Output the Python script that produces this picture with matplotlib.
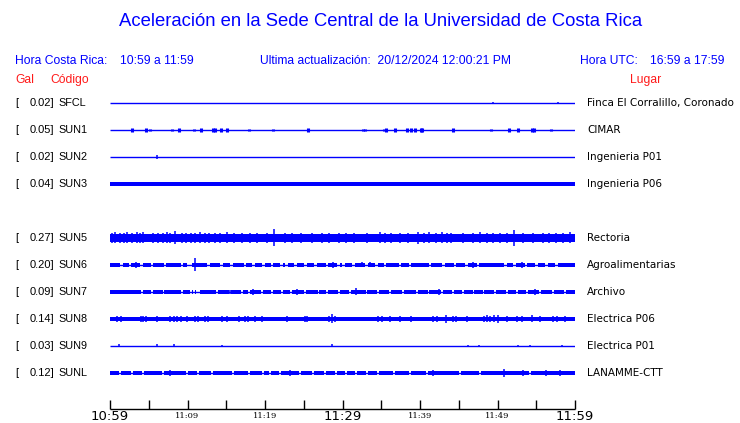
import matplotlib
matplotlib.use("Agg")
import matplotlib.pyplot as plt

# ---------------- data ----------------
codes = ["SFCL", "SUN1", "SUN2", "SUN3", "SUN5", "SUN6", "SUN7", "SUN8", "SUN9", "SUNL"]
gal = [0.02, 0.05, 0.02, 0.04, 0.27, 0.20, 0.09, 0.14, 0.03, 0.12]
places = ["Finca El Corralillo, Coronado", "CIMAR", "Ingenieria P01", "Ingenieria P06",
          "Rectoria", "Agroalimentarias", "Archivo", "Electrica P06", "Electrica P01",
          "LANAMME-CTT"]
slots = [0, 1, 2, 3, 5, 6, 7, 8, 9, 10]

# body half-amplitude (relative units) of each trace
base_amp = [0.0, 0.0, 0.0, 2.0, 4.0, 2.0, 1.8, 2.2, 0.0, 1.8]

# short bursts: (minute after 10:59, half amplitude)
spikes = {
    "SFCL": [(49.4, 1.0), (57.8, 1.0)],
    "SUN1": [(2.9, 1.6), (4.7, 1.6), (5.2, 1.0), (8.0, 1.0), (8.9, 1.6), (10.8, 1.0),
             (11.8, 1.6), (13.3, 1.6), (13.5, 1.6), (14.3, 1.6), (15.1, 1.6), (17.9, 1.2),
             (21.0, 0.9), (25.5, 1.6), (32.7, 1.4), (32.9, 1.4), (35.3, 1.2), (35.6, 1.6),
             (36.8, 1.6), (38.3, 1.6), (38.9, 1.6), (39.3, 1.6), (40.1, 1.6), (40.3, 1.6),
             (44.2, 1.6), (49.1, 0.9), (51.5, 1.6), (52.6, 1.6), (54.4, 1.6), (54.7, 1.6),
             (56.9, 1.0)],
    "SUN2": [(6.1, 1.6)],
    "SUN3": [],
    "SUN5": [(0.65, 5.5), (2.15, 5.5), (3.44, 5.5), (4.3, 5.5), (7.3, 5.5), (8.4, 6.5),
             (10.5, 4.8), (11.6, 5.5), (14.2, 4.8), (15.1, 5.5), (21.2, 8.5), (22.6, 5.0),
             (24.7, 4.8), (27.3, 4.8), (29.5, 4.8), (34.8, 5.5), (37.4, 4.8), (39.8, 6.2),
             (41.1, 5.5), (42.8, 5.5), (45.6, 4.8), (47.7, 5.5), (48.6, 4.8), (52.1, 8.0),
             (54.6, 4.8), (55.9, 4.8), (59.4, 5.5), (1.3, 5.0), (5.6, 5.0), (9.3, 5.2),
             (12.8, 5.0), (17.0, 4.8), (19.0, 5.0), (26.0, 5.0), (31.5, 5.0), (33.2, 4.8),
             (36.2, 5.2), (44.0, 5.0), (50.3, 5.0), (57.5, 5.2), (0.2, 4.8), (1.8, 4.7),
             (2.8, 4.8), (3.9, 4.7), (6.2, 4.7), (6.8, 4.8), (7.8, 4.7), (9.8, 4.7),
             (11.0, 4.8), (12.2, 4.7), (13.5, 4.8), (16.0, 4.7), (18.0, 4.8), (20.3, 4.7),
             (23.5, 4.7), (28.3, 4.7), (30.4, 4.7), (35.5, 4.8), (38.4, 4.7), (40.5, 4.8),
             (42.0, 4.8), (43.5, 4.7), (46.8, 4.7), (49.4, 4.7), (51.2, 4.8), (53.3, 4.7),
             (56.7, 4.7), (58.5, 4.8)],
    "SUN6": [(3.3, 3.0), (11.0, 6.5), (28.8, 2.7), (32.5, 2.5), (33.5, 2.5), (46.9, 2.8),
             (53.1, 2.7)],
    "SUN7": [(2.15, 2.4), (15.5, 2.3), (18.5, 3.0), (24.1, 3.0), (31.8, 3.5), (36.8, 2.3),
             (42.4, 2.6), (54.9, 2.6)],
    "SUN8": [(0.9, 3.2), (1.4, 3.2), (4.0, 3.2), (4.3, 3.2), (4.7, 3.2), (6.0, 3.2),
             (7.7, 3.2), (8.2, 3.2), (8.6, 3.2), (9.2, 3.2), (9.9, 3.2), (11.0, 3.2),
             (11.4, 3.2), (12.3, 3.2), (12.7, 3.2), (14.4, 3.2), (15.1, 3.2), (16.6, 3.2),
             (17.4, 3.2), (17.8, 3.2), (18.7, 3.2), (19.6, 3.2), (22.8, 3.2), (25.2, 3.2),
             (25.4, 3.2), (28.2, 3.2), (28.6, 4.5), (29.0, 3.2), (34.6, 3.2), (35.1, 3.2),
             (36.1, 3.2), (37.4, 3.2), (38.9, 3.2), (41.7, 3.2), (42.2, 3.2), (43.4, 4.0),
             (44.3, 3.2), (44.7, 3.2), (46.0, 3.2), (48.2, 3.2), (48.6, 3.5), (49.0, 3.2),
             (49.5, 3.5), (50.1, 4.0), (51.2, 3.2), (52.5, 3.2), (53.1, 3.2), (54.4, 3.5),
             (55.5, 3.2), (57.2, 3.2), (57.7, 3.2), (58.7, 3.2)],
    "SUN9": [(1.1, 1.5), (6.1, 1.5), (8.2, 1.5), (14.4, 1.3), (28.7, 1.5), (46.2, 1.3),
             (47.6, 1.3), (52.7, 1.3), (54.2, 1.3), (58.3, 1.3)],
    "SUNL": [(5.8, 2.4), (7.7, 2.6), (23.2, 2.6), (41.7, 2.6), (50.9, 4.0), (53.3, 3.0),
             (56.2, 2.6), (58.1, 3.0)],
}

# quiet moments (minute) where the trace body thins to a line
gaps = {
    "SUN6": [1.5, 2.6, 4.1, 5.4, 7.1, 9.3, 10.1, 10.4, 12.7, 14.4, 15.7, 17.4, 18.5, 19.8,
             20.9, 22.1, 22.8, 23.9, 25.2, 26.5, 28.0, 29.5, 30.1, 31.4, 33.1, 34.4, 35.5,
             37.4, 38.7, 41.3, 43.0, 44.5, 46.0, 47.5, 51.0, 52.2, 53.7, 55.0, 56.3, 57.6],
    "SUN7": [4.1, 5.4, 6.9, 9.3, 10.4, 10.8, 11.2, 11.5, 13.8, 15.5, 17.0, 17.9, 19.6,
             20.9, 22.2, 23.4, 25.2, 26.9, 28.0, 29.5, 31.0, 33.1, 34.6, 36.1, 37.8, 39.6,
             41.1, 42.8, 44.3, 45.6, 46.9, 48.2, 49.7, 51.2, 52.5, 53.8, 55.5, 57.2, 58.7],
    "SUNL": [1.3, 2.8, 4.3, 6.9, 9.9, 11.4, 13.1, 15.9, 17.9, 19.8, 20.6, 21.9, 24.5, 26.2,
             27.7, 29.2, 30.5, 31.8, 33.1, 34.6, 36.6, 38.7, 40.9, 45.2, 47.7, 54.2],
}

tick_minutes = [0, 5, 10, 15, 20, 25, 30, 35, 40, 45, 50, 55, 60]
label_minutes = [0, 10, 20, 30, 40, 50, 60]
tick_labels = ["10:59", "11:09", "11:19", "11:29", "11:39", "11:49", "11:59"]
big_labels = ["10:59", "11:29", "11:59"]

# ---------------- drawing ----------------
W, H = 740, 423
BLUE = "#0000ff"
RED = "#ff1a1a"
fig = plt.figure(figsize=(W / 100, H / 100), dpi=100)
fig.patch.set_facecolor("white")

ax = fig.add_axes([110 / W, 0, 465 / W, 1])
ax.set_xlim(0, 60)
ax.set_ylim(H, 0)
ax.axis("off")

ROW0, DROW = 103, 27
GAP_HALF = {"SUN6": 0.17, "SUN7": 0.12, "SUNL": 0.13}

for code, amp, slot in zip(codes, base_amp, slots):
    yc = ROW0 + DROW * slot
    ax.hlines(yc, 0, 60, color=BLUE, lw=1.0)
    if amp > 0:
        segs = []
        start = 0.0
        gh = GAP_HALF.get(code, 0.15)
        for g in sorted(gaps.get(code, [])):
            a, b = g - gh, g + gh
            if a > start:
                segs.append((start, a - start))
            start = b
        if start < 60:
            segs.append((start, 60 - start))
        ax.broken_barh(segs, (yc - amp, 2 * amp), facecolors=BLUE, edgecolors="none")
    sp = spikes.get(code, [])
    if sp:
        ts = [s[0] for s in sp]
        hs = [s[1] for s in sp]
        lw = 2.2 if code == "SUN1" else 1.1
        ax.vlines(ts, [yc - h for h in hs], [yc + h for h in hs], color=BLUE, lw=lw)

# time axis
AXY = 409
ax.hlines(AXY, 0, 60, color="black", lw=1.0, clip_on=False)
ax.vlines(tick_minutes, AXY - 9, AXY, color="black", lw=1.0, clip_on=False)
for m, lab in zip(label_minutes, tick_labels):
    if lab in big_labels:
        ax.text(m, 416.5, lab, ha="center", va="center", fontsize=9.5,
                family="DejaVu Sans", color="black", clip_on=False)
    else:
        ax.text(m, 416, lab, ha="center", va="center", fontsize=6,
                family="DejaVu Serif", color="black", clip_on=False)


def ftext(x, y, s, **kw):
    fig.text(x / W, 1 - y / H, s, va="center", **kw)


SANS = "Liberation Sans"
ftext(381, 22, "Aceleración en la Sede Central de la Universidad de Costa Rica",
      ha="center", fontsize=13.3, color=BLUE, family=SANS)
ftext(15, 61, "Hora Costa Rica:", ha="left", fontsize=8.7, color=BLUE, family=SANS)
ftext(120, 61, "10:59 a 11:59", ha="left", fontsize=8.7, color=BLUE, family=SANS)
ftext(260, 61, "Ultima actualización:  20/12/2024 12:00:21 PM", ha="left", fontsize=8.7,
      color=BLUE, family=SANS)
ftext(580, 61, "Hora UTC:", ha="left", fontsize=8.7, color=BLUE, family=SANS)
ftext(650, 61, "16:59 a 17:59", ha="left", fontsize=8.7, color=BLUE, family=SANS)
ftext(15, 80, "Gal", ha="left", fontsize=8.7, color=RED, family=SANS)
ftext(50, 80, "Código", ha="left", fontsize=8.7, color=RED, family=SANS)
ftext(630, 80, "Lugar", ha="left", fontsize=8.7, color=RED, family=SANS)

for code, g, place, slot in zip(codes, gal, places, slots):
    yc = ROW0 + DROW * slot
    ftext(15, yc, "[", ha="left", fontsize=8, color="black", family=SANS)
    ftext(54.5, yc, f"{g:.2f}]", ha="right", fontsize=8, color="black", family=SANS)
    ftext(58.5, yc, code, ha="left", fontsize=7.8, color="black", family=SANS)
    ftext(587, yc, place, ha="left", fontsize=7.5, color="black", family="DejaVu Sans")

fig.savefig("out.png", dpi=100, facecolor="white")
